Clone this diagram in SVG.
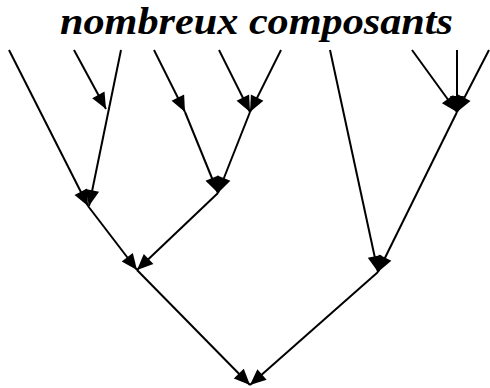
<svg xmlns="http://www.w3.org/2000/svg" width="490" height="388" viewBox="0 0 490 388">
  <defs>
    <marker id="head" markerUnits="userSpaceOnUse" markerWidth="16" markerHeight="14" refX="16" refY="7" orient="auto" overflow="visible">
      <path d="M0,0 L16,7 L0,14 Z" fill="#000"/>
    </marker>
    <style>
      .edge { stroke: #000; stroke-width: 2; fill: none; }
      .arrow { marker-end: url(#head); }
      .title { font-family: "Liberation Serif", "Times New Roman", serif; font-weight: bold; font-style: italic; font-size: 38px; fill: #000; }
    </style>
  </defs>
  <rect width="490" height="388" fill="#fff"/>

  <g id="title">
    <text class="title" x="60" y="34" textLength="393" lengthAdjust="spacingAndGlyphs">nombreux composants</text>
  </g>

  <g id="connectors">
    <!-- left sub-tree -->
    <line class="edge arrow" x1="9" y1="50" x2="88" y2="206"/>
    <line class="edge arrow" x1="121" y1="50" x2="89" y2="206"/>
    <line class="edge arrow" x1="74" y1="50" x2="106" y2="109"/>
    <line class="edge arrow" x1="154" y1="50" x2="185" y2="112"/>
    <line class="edge arrow" x1="185" y1="112" x2="218" y2="193"/>
    <line class="edge arrow" x1="219" y1="50" x2="250" y2="112"/>
    <line class="edge arrow" x1="281" y1="50" x2="250" y2="112"/>
    <line class="edge arrow" x1="250" y1="112" x2="218" y2="193"/>
    <line class="edge arrow" x1="88" y1="206" x2="137" y2="270"/>
    <line class="edge arrow" x1="218" y1="193" x2="137" y2="270"/>

    <!-- right sub-tree -->
    <line class="edge arrow" x1="330" y1="50" x2="378" y2="272"/>
    <line class="edge arrow" x1="412" y1="50" x2="457" y2="112"/>
    <line class="edge arrow" x1="457" y1="50" x2="457" y2="112"/>
    <line class="edge arrow" x1="489" y1="50" x2="457" y2="112"/>
    <line class="edge arrow" x1="457" y1="112" x2="378" y2="272"/>

    <!-- root -->
    <line class="edge arrow" x1="137" y1="270" x2="250" y2="385"/>
    <line class="edge arrow" x1="378" y1="272" x2="250" y2="385"/>
  </g>
</svg>
